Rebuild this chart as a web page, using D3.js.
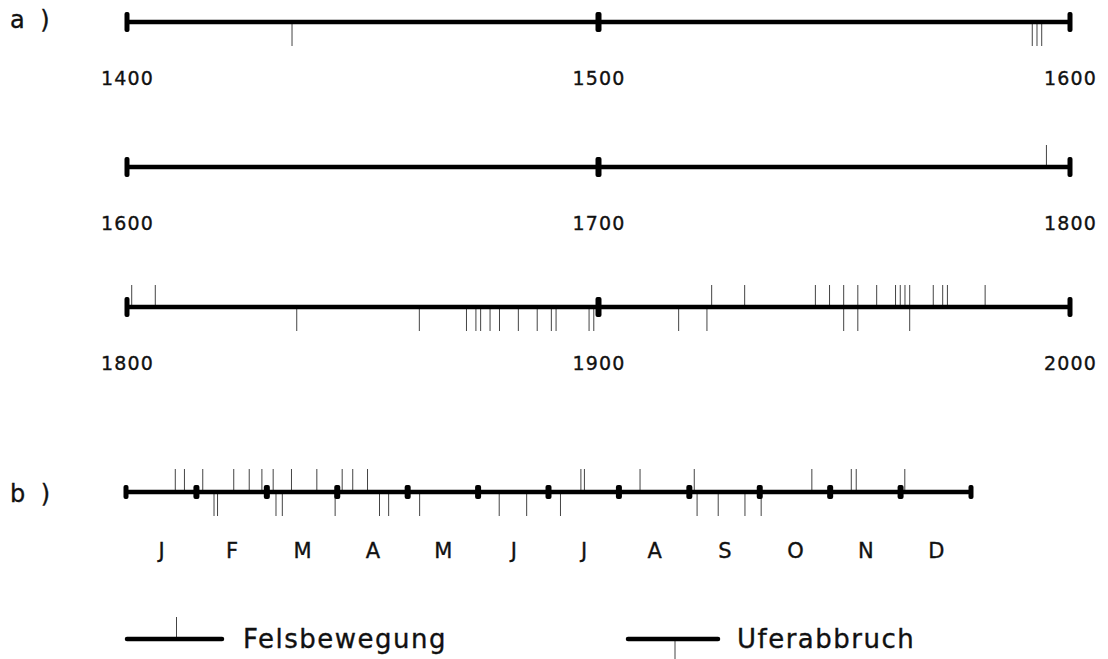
<!DOCTYPE html>
<html>
<head>
<meta charset="utf-8">
<script src="https://cdn.jsdelivr.net/npm/d3@7"></script>
<style>
  body { margin: 0; background: #fff; }
  svg { display: block; }
  text { font-family: "DejaVu Sans", sans-serif; fill: #111; stroke: #111; stroke-width: 0.35px; }
</style>
</head>
<body>
<svg id="chart" width="1108" height="659"></svg>
<script>
// ---------- DATA ----------
const rowStarts = [1400, 1600, 1800];            // each row spans 200 years
const rowTickYears = [0, 100, 200];               // offsets of labelled ticks within a row
const felsYears = [1795, 1801, 1806, 1924, 1931, 1946, 1949, 1952, 1955, 1959,
                   1963, 1964, 1965, 1966, 1971, 1973, 1974, 1982];
const uferYears = [1435, 1592, 1593, 1594, 1836, 1862, 1872, 1874, 1875, 1877,
                   1879, 1883, 1887, 1890, 1891, 1898, 1899, 1917, 1923, 1952,
                   1955, 1966];
const months = ["J", "F", "M", "A", "M", "J", "J", "A", "S", "O", "N", "D"];
// positions in month units (0 = start of January, 12 = end of December)
const felsMonths = [0.70, 0.83, 1.09, 1.53, 1.75, 1.93, 2.09, 2.35, 2.71, 3.07,
                    3.22, 3.43, 6.46, 6.51, 7.30, 8.07, 9.74, 10.30, 10.37, 11.06];
const uferMonths = [1.25, 1.30, 2.13, 2.22, 2.97, 3.60, 3.73, 4.17, 5.30, 5.69,
                    6.17, 8.11, 8.41, 8.79, 9.02];
const legendLabels = ["Felsbewegung", "Uferabbruch"];
const panelLabels = ["a )", "b )"];

// ---------- LAYOUT ----------
const svg = d3.select("#chart");
const X0 = 127, X1 = 1070;
const rowY = [22, 167, 307];
const tickUp = 22, tickDown = 24;
const lineW = 4.5;
const tickColor = "#444";

function drawCap(g, x, y, w, h) {
  g.append("rect").attr("x", x - w / 2).attr("y", y - h / 2)
    .attr("width", w).attr("height", h).attr("rx", Math.min(w / 2, 2)).attr("fill", "#000");
}

// ---------- PANEL a ----------
rowStarts.forEach((start, i) => {
  const x = d3.scaleLinear().domain([start, start + 200]).range([X0, X1]);
  const y = rowY[i];
  const g = svg.append("g");

  g.selectAll("line.fels").data(felsYears.filter(v => v >= start && v <= start + 200))
    .join("line").attr("class", "fels")
    .attr("x1", d => x(d)).attr("x2", d => x(d))
    .attr("y1", y - tickUp).attr("y2", y)
    .attr("stroke", tickColor).attr("stroke-width", 1);
  g.selectAll("line.ufer").data(uferYears.filter(v => v >= start && v <= start + 200))
    .join("line").attr("class", "ufer")
    .attr("x1", d => x(d)).attr("x2", d => x(d))
    .attr("y1", y).attr("y2", y + tickDown)
    .attr("stroke", tickColor).attr("stroke-width", 1);

  g.append("line").attr("x1", x(start)).attr("x2", x(start + 200))
    .attr("y1", y).attr("y2", y).attr("stroke", "#000").attr("stroke-width", lineW);

  rowTickYears.forEach(o => drawCap(g, x(start + o), y, o === 100 ? 6 : 5, 20));

  const axis = d3.axisBottom(x).tickValues(rowTickYears.map(o => start + o))
    .tickSize(0).tickPadding(0).tickFormat(d3.format("d"));
  const ag = svg.append("g").attr("transform", `translate(0,${y + 63})`).call(axis);
  ag.select(".domain").remove();
  ag.selectAll("text").attr("dy", 0).attr("font-size", 19)
    .attr("letter-spacing", "1.2px").attr("font-family", "DejaVu Sans, sans-serif").attr("fill", "#111");
});

// ---------- PANEL b ----------
{
  const y = 492;
  const x = d3.scaleLinear().domain([0, 12]).range([126, 971]);
  const g = svg.append("g");
  g.selectAll("line.fels").data(felsMonths).join("line").attr("class", "fels")
    .attr("x1", d => x(d)).attr("x2", d => x(d))
    .attr("y1", y - 23).attr("y2", y)
    .attr("stroke", tickColor).attr("stroke-width", 1);
  g.selectAll("line.ufer").data(uferMonths).join("line").attr("class", "ufer")
    .attr("x1", d => x(d)).attr("x2", d => x(d))
    .attr("y1", y).attr("y2", y + 24)
    .attr("stroke", tickColor).attr("stroke-width", 1);
  g.append("line").attr("x1", x(0)).attr("x2", x(12))
    .attr("y1", y).attr("y2", y).attr("stroke", "#000").attr("stroke-width", lineW);
  d3.range(0, 13).forEach(m => drawCap(g, x(m), y, m === 0 || m === 12 ? 5 : 6, 14));

  const axis = d3.axisBottom(x).tickValues(d3.range(12).map(m => m + 0.5))
    .tickSize(0).tickPadding(0).tickFormat((d, i) => months[i]);
  const ag = svg.append("g").attr("transform", `translate(0,${y + 66})`).call(axis);
  ag.select(".domain").remove();
  ag.selectAll("text").attr("dy", 0).attr("font-size", 21)
    .attr("font-family", "DejaVu Sans, sans-serif").attr("fill", "#111");
}

// ---------- panel labels ----------
svg.append("text").attr("x", 10).attr("y", 28).attr("font-size", 24)
  .attr("letter-spacing", "4px").text(panelLabels[0]);
svg.append("text").attr("x", 10).attr("y", 502).attr("font-size", 24)
  .attr("letter-spacing", "4px").text(panelLabels[1]);

// ---------- legend ----------
{
  const ly = 639;
  const items = [
    { x0: 127, x1: 222, dir: -1, tx: 243 },
    { x0: 628, x1: 718, dir: 1, tx: 737 }
  ];
  items.forEach((it, i) => {
    const tx = (it.x0 + it.x1) / 2 + 2;
    svg.append("line").attr("x1", tx).attr("x2", tx)
      .attr("y1", ly).attr("y2", ly + it.dir * 22)
      .attr("stroke", tickColor).attr("stroke-width", 1);
    svg.append("line").attr("x1", it.x0).attr("x2", it.x1)
      .attr("y1", ly).attr("y2", ly).attr("stroke", "#000").attr("stroke-width", lineW)
      .attr("stroke-linecap", "round");
    svg.append("text").attr("x", it.tx).attr("y", ly + 9).attr("font-size", 26)
      .attr("letter-spacing", "1.5px").text(legendLabels[i]);
  });
}
</script>
</body>
</html>
